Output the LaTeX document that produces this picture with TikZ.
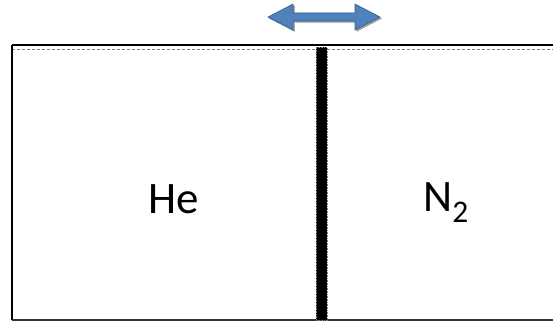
\documentclass[tikz,border=0pt]{standalone}
\usepackage{fontspec}
\setmainfont{Carlito}

\definecolor{arrowblue}{RGB}{79,129,189}
\definecolor{arrowedge}{RGB}{56,93,138}

\begin{document}
\begin{tikzpicture}[x=1pt, y=-1pt,
  gas/.style={font=\fontsize{45}{54}\selectfont, inner sep=0pt, anchor=base},
  wall/.style={draw=black, line width=2pt},
  piston/.style={fill=black, draw=gray, densely dotted, line width=0.6pt, inner sep=0pt, minimum width=11pt, minimum height=273pt},
  movearrow/.style={fill=arrowblue, draw=arrowedge, line width=0.6pt, line join=miter},
  arrowshadow/.style={fill=gray!75, draw=gray!90, densely dotted, line width=0.6pt}]

  \useasboundingbox (0,0) rectangle (553,321);

  % Corners of the chamber
  \coordinate (TL) at (12,45);
  \coordinate (TR) at (553,45);
  \coordinate (BL) at (12,320);
  \coordinate (BR) at (553,320);

  % Chamber walls
  \draw[wall, line width=2.5pt] (TL) -- (TR);
  \draw[gray, densely dashed, line width=1pt] (12,49.5) -- (553,49.5);
  \draw[wall] (TL) -- (BL);
  \draw[wall, line width=1.5pt, black!80] (BL) -- (BR);

  % Movable divider
  \node[piston, anchor=north] (P) at (321.5,47) {};

  % Gases
  \node[gas] (He) at (174,213) {He};
  \node[gas] (N2) at (446,211) {N\textsubscript{2}};

  % Move arrow (shadow first)
  \draw[arrowshadow, shift={(1.5,1.5)}] (268,17) -- (293,4) -- (293,13) -- (355,13) -- (355,4) -- (380,17)
    -- (355,30) -- (355,21) -- (293,21) -- (293,30) -- cycle;
  \draw[movearrow] (268,17) -- (293,4) -- (293,13) -- (355,13) -- (355,4) -- (380,17)
    -- (355,30) -- (355,21) -- (293,21) -- (293,30) -- cycle;

\end{tikzpicture}
\end{document}
